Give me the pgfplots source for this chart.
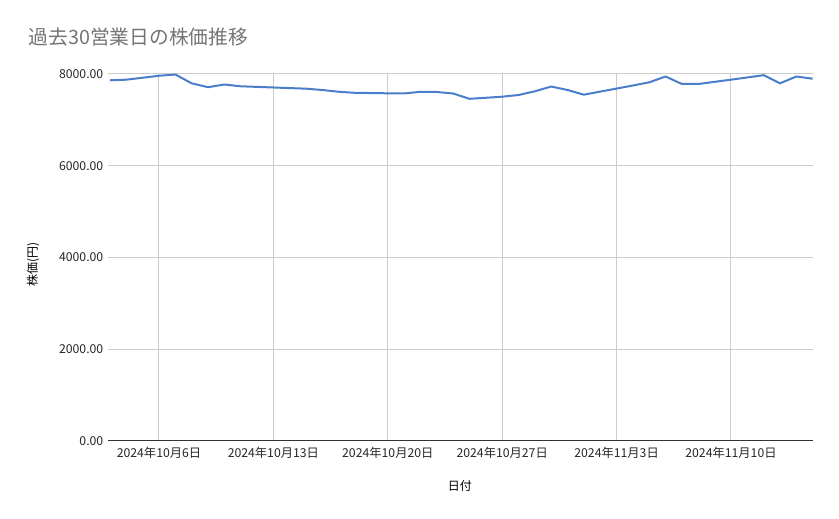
\documentclass[border=0pt]{standalone}
\usepackage{fontspec}
\setmainfont{Noto Sans CJK JP}
\usepackage{pgfplots}
\usepackage{pgfplotstable}
\pgfplotsset{compat=1.18}

\definecolor{lineblue}{RGB}{74,126,202}
\definecolor{gridgray}{RGB}{204,204,204}
\definecolor{titlegray}{RGB}{117,117,117}

% day: October days as-is, November day d = 31 + d
\pgfplotstableread{
day price
3  7863
4  7876
6  7961
7  7989
8  7797
9  7712
10 7771
11 7732
13 7706
15 7680
16 7651
17 7612
18 7590
20 7579
21 7575
22 7612
23 7608
24 7575
25 7459
27 7505
28 7542
29 7623
30 7727
31 7651
32 7549
35 7749
36 7819
37 7945
38 7782
39 7782
41 7876
43 7974
44 7797
45 7945
46 7897
}\pricedata

\begin{document}
\begin{tikzpicture}
\begin{axis}[
    scale only axis,
    width=528.75pt,
    height=275.25pt,
    xmin=2.88, xmax=46.02,
    ymin=0, ymax=8000,
    xtick={6,13,20,27,34,41},
    xticklabels={2024年10月6日,2024年10月13日,2024年10月20日,2024年10月27日,2024年11月3日,2024年11月10日},
    ytick={0,2000,4000,6000,8000},
    yticklabel style={/pgf/number format/.cd, fixed, fixed zerofill, precision=2, 1000 sep={}, assume math mode=true},
    tick label style={font=\fontsize{9.2}{11}\selectfont, text=black!85},
    xticklabel style={yshift=-1pt},
    major tick length=0pt,
    xmajorgrids, ymajorgrids,
    grid style={gridgray, line width=0.75pt},
    axis x line*=bottom,
    axis y line*=left,
    x axis line style={black!80, line width=0.75pt, -},
    y axis line style={draw=none},
    title={過去30営業日の株価推移},
    title style={at={(axis description cs:-0.119,1.078)}, anchor=west, font=\fontsize{14.8}{17}\selectfont, text=titlegray},
    xlabel={日付},
    xlabel style={at={(axis description cs:0.499,-0.1226)}, anchor=center, font=\fontsize{9}{11}\selectfont},
    ylabel={株価(円)},
    ylabel style={at={(axis description cs:-0.1064,0.482)}, anchor=center, font=\fontsize{9}{11}\selectfont},
    clip=false,
]
\addplot[lineblue, line width=1.5pt, line join=round] table[x=day, y=price] {\pricedata};
\end{axis}
\path[use as bounding box] ([xshift=-81pt,yshift=-58.5pt]current axis.south west) rectangle ([xshift=19.5pt,yshift=55.5pt]current axis.north east);
\end{tikzpicture}
\end{document}
